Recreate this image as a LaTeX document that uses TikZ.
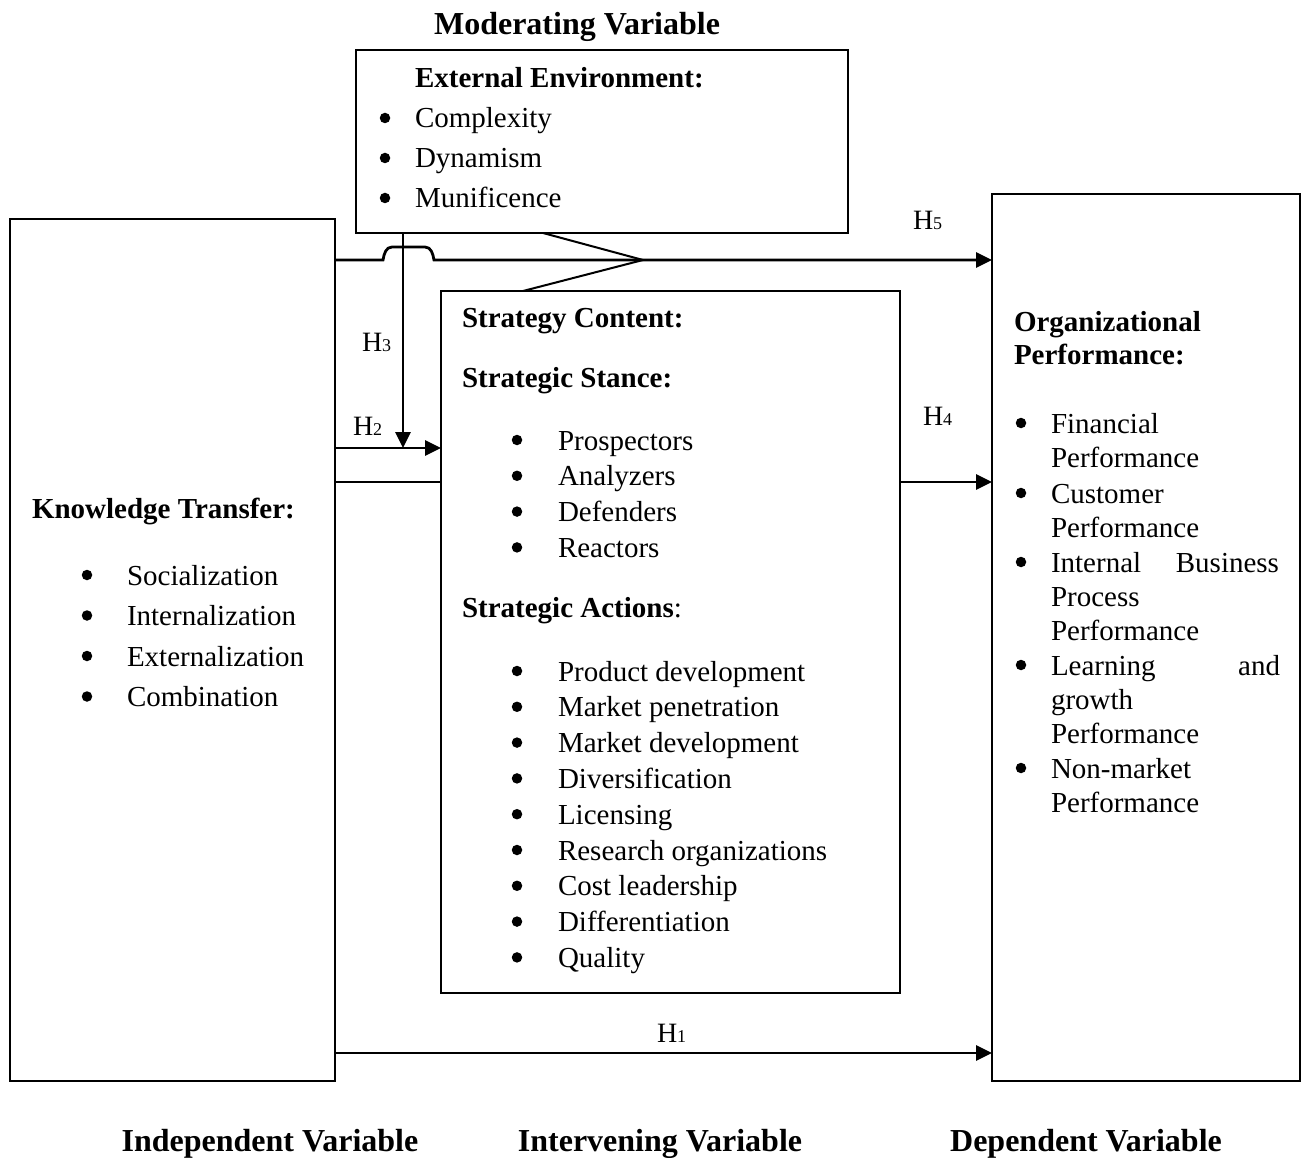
\documentclass[tikz,border=0pt]{standalone}
\usepackage{fontspec}
\setmainfont{Liberation Serif}
\usetikzlibrary{arrows.meta}
\tikzset{
  txt/.style={inner sep=0pt, outer sep=0pt, anchor=base west, font=\fontsize{29}{34}\selectfont},
  hd/.style={txt, font=\fontsize{29}{34}\selectfont\bfseries},
  txe/.style={txt, anchor=base east},
  ttl/.style={inner sep=0pt, outer sep=0pt, anchor=base, font=\fontsize{32}{38}\selectfont\bfseries},
  bul/.style={circle, fill=black, inner sep=0pt, outer sep=0pt, minimum size=10.5pt, yshift=10pt},
  hl/.style={inner sep=0pt, outer sep=0pt, anchor=base west, font=\fontsize{28}{32}\selectfont},
  box/.style={draw, line width=1.8pt, anchor=north west, inner sep=0pt, outer sep=0pt},
  arr/.style={line width=2.8pt, -{Triangle[length=16pt,width=15pt]}},
  ln/.style={line width=2pt},
}
\newcommand{\Hsub}[1]{H{\fontsize{18}{20}\selectfont #1}}
\begin{document}
\begin{tikzpicture}[x=1pt,y=-1pt]
\useasboundingbox (0,0) rectangle (1307,1158);

% boxes
\node[box, minimum width=325pt, minimum height=862pt] (KT) at (10,219) {};
\node[box, minimum width=492pt, minimum height=183pt] (EE) at (356,50) {};
\node[box, minimum width=459pt, minimum height=702pt] (SC) at (441,291) {};
\node[box, minimum width=308pt, minimum height=887pt] (OP) at (992,194) {};

% titles
\node[ttl] (tmod) at (577,35) {Moderating Variable};
\node[ttl] (tind) at (270,1151) {Independent Variable};
\node[ttl] (tint) at (660,1151) {Intervening Variable};
\node[ttl] (tdep) at (1086,1151) {Dependent Variable};

% External environment
\node[hd] (eeh) at (415,88) {External Environment:};
\foreach \t [count=\i] in {Complexity,Dynamism,Munificence}{
  \node[bul] (eeb\i) at (385,{88+40*\i}) {};
  \node[txt] (eet\i) at (415,{88+40*\i}) {\t};
}

% Knowledge transfer
\node[hd] (kth) at (32,518) {Knowledge Transfer:};
\foreach \t [count=\i] in {Socialization,Internalization,Externalization,Combination}{
  \node[bul] (ktb\i) at (87,{585+40.5*(\i-1)}) {};
  \node[txt] (ktt\i) at (127,{585+40.5*(\i-1)}) {\t};
}

% Strategy content
\node[hd] (sch) at (462,328) {Strategy Content:};
\node[hd] (ssh) at (462,388) {Strategic Stance:};
\foreach \t [count=\i] in {Prospectors,Analyzers,Defenders,Reactors}{
  \node[bul] (ssb\i) at (517,{450+35.8*(\i-1)}) {};
  \node[txt] (sst\i) at (558,{450+35.8*(\i-1)}) {\t};
}
\node[txt] (sah) at (462,617) {\textbf{Strategic Actions}:};
\foreach \t [count=\i] in {Product development,Market penetration,Market development,Diversification,Licensing,Research organizations,Cost leadership,Differentiation,Quality}{
  \node[bul] (sab\i) at (517,{681+35.8*(\i-1)}) {};
  \node[txt] (sat\i) at (558,{681+35.8*(\i-1)}) {\t};
}

% Organizational performance
\node[hd] (oph1) at (1014,332) {Organizational};
\node[hd] (oph2) at (1014,365) {Performance:};
\foreach \y [count=\i] in {433,503,572,675,778}{
  \node[bul] (opb\i) at (1021,\y) {};
}
\node[txt] (opt1) at (1051,433) {Financial};
\node[txt] (opt2) at (1051,467) {Performance};
\node[txt] (opt3) at (1051,503) {Customer};
\node[txt] (opt4) at (1051,537) {Performance};
\node[txt] (opt5) at (1051,572) {Internal};
\node[txe] (opt6) at (1279,572) {Business};
\node[txt] (opt7) at (1051,606) {Process};
\node[txt] (opt8) at (1051,640) {Performance};
\node[txt] (opt9) at (1051,675) {Learning};
\node[txe] (opt10) at (1280,675) {and};
\node[txt] (opt11) at (1051,709) {growth};
\node[txt] (opt12) at (1051,743) {Performance};
\node[txt] (opt13) at (1051,778) {Non-market};
\node[txt] (opt14) at (1051,812) {Performance};

% hypothesis labels
\node[hl] (h5) at (913,230) {\Hsub{5}};
\node[hl] (h4) at (923,425) {\Hsub{4}};
\node[hl] (h3) at (362,352) {\Hsub{3}};
\node[hl] (h2) at (353,435) {\Hsub{2}};
\node[hl] (h1) at (657,1042) {\Hsub{1}};

% helper coordinates
\coordinate (jn) at (643,260);
\coordinate (m1) at (543,233);
\coordinate (m2) at (523,291);
\coordinate (h3x) at (403,448);
\coordinate (l4) at (0,482);
\coordinate (l1) at (0,1053);

% connectors
\draw[arr] (KT.east |- jn) -- (383,260) to[out=80,in=180] (392,247) -- (425,247) to[out=0,in=100] (434,260) -- (OP.west |- jn);
\draw[ln] (m1) -- (jn) -- (m2);
\draw[arr] (EE.south -| h3x) -- (h3x);
\draw[arr] (KT.east |- h3x) -- (SC.west |- h3x);
\draw[ln] (KT.east |- l4) -- (SC.west |- l4);
\draw[arr] (SC.east |- l4) -- (OP.west |- l4);
\draw[arr] (KT.east |- l1) -- (OP.west |- l1);
\end{tikzpicture}
\end{document}
